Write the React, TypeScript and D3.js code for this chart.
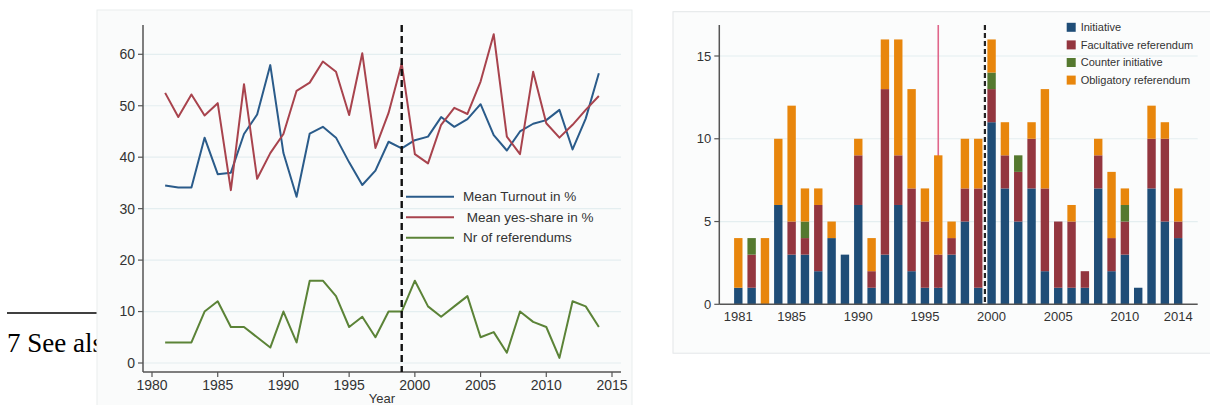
import React from 'react';
import * as d3 from 'd3';

// ---------- DATA ----------
const years = [1981, 1982, 1983, 1984, 1985, 1986, 1987, 1988, 1989, 1990,
  1991, 1992, 1993, 1994, 1995, 1996, 1997, 1998, 1999, 2000,
  2001, 2002, 2003, 2004, 2005, 2006, 2007, 2008, 2009, 2010,
  2011, 2012, 2013, 2014];

const turnout = [34.5, 34.1, 34.1, 43.8, 36.7, 37.0, 44.5, 48.3, 57.9, 40.8,
  32.3, 44.6, 45.9, 43.8, 39.0, 34.6, 37.4, 43.0, 41.7, 43.3,
  44.0, 47.8, 45.9, 47.4, 50.3, 44.3, 41.3, 45.0, 46.5, 47.2,
  49.2, 41.5, 47.5, 56.3];

const yesShare = [52.5, 47.8, 52.2, 48.1, 50.5, 33.6, 54.2, 35.8, 40.8, 44.5,
  52.9, 54.5, 58.6, 56.6, 48.2, 60.2, 41.8, 48.6, 58.2, 40.6,
  38.8, 46.3, 49.6, 48.4, 54.7, 63.9, 44.0, 40.6, 56.6, 46.6,
  43.8, 46.3, 49.2, 51.9];

const nrReferendums = [4, 4, 4, 10, 12, 7, 7, 5, 3, 10,
  4, 16, 16, 13, 7, 9, 5, 10, 10, 16,
  11, 9, 11, 13, 5, 6, 2, 10, 8, 7,
  1, 12, 11, 7];

const initiative = [1, 1, 0, 6, 3, 3, 2, 4, 3, 6, 1, 3, 6, 2, 1, 1, 3, 5, 1, 11, 7, 5, 7, 2, 1, 1, 1, 7, 2, 3, 1, 7, 5, 4];
const facultative = [0, 2, 0, 0, 2, 1, 4, 0, 0, 3, 1, 10, 3, 5, 4, 2, 1, 2, 6, 2, 2, 3, 3, 5, 4, 4, 1, 2, 2, 2, 0, 3, 5, 1];
const counterInit = [0, 1, 0, 0, 0, 1, 0, 0, 0, 0, 0, 0, 0, 0, 0, 0, 0, 0, 0, 1, 0, 1, 0, 0, 0, 0, 0, 0, 0, 1, 0, 0, 0, 0];
const obligatory = [3, 0, 4, 4, 7, 2, 1, 1, 0, 1, 2, 3, 7, 6, 2, 6, 1, 3, 3, 2, 2, 0, 1, 6, 0, 1, 0, 1, 4, 1, 0, 2, 1, 2];

const leftXTicks = [1980, 1985, 1990, 1995, 2000, 2005, 2010, 2015];
const leftYTicks = [0, 10, 20, 30, 40, 50, 60];
const rightXTicks = [1981, 1985, 1990, 1995, 2000, 2005, 2010, 2014];
const rightYTicks = [0, 5, 10, 15];

const lineSeries = [
  { name: 'Mean Turnout in %', label: 'Mean Turnout in %', values: turnout, color: '#2a5b8a' },
  { name: 'Mean yes-share in %', label: ' Mean yes-share in %', values: yesShare, color: '#a8434d' },
  { name: 'Nr of referendums', label: 'Nr of referendums', values: nrReferendums, color: '#5b8337' },
];

const barKeys = ['Initiative', 'Facultative referendum', 'Counter initiative', 'Obligatory referendum'];
const barColors = ['#1f4d77', '#93363f', '#55792f', '#e8860c'];

const FONT = '"Liberation Sans", Arial, Helvetica, sans-serif';

export default function App() {
  // ---------- LEFT CHART ----------
  const xL = d3.scaleLinear().domain([1980, 2015]).range([152, 612]);
  const yL = d3.scaleLinear().domain([0, 60]).range([363, 54.3]);
  const lFrame = { left: 143, right: 621, top: 25, bottom: 372 };

  const lineGen = (vals: number[]) =>
    d3.line<number>().x((_, i) => xL(years[i])).y((v) => yL(v))(vals) || '';

  // ---------- RIGHT CHART ----------
  const xR = d3.scaleLinear().domain([1981, 2014]).range([738.3, 1178.2]);
  const yR = d3.scaleLinear().domain([0, 15]).range([304.3, 56]);
  const rFrame = { left: 719.3, right: 1197.7, top: 25, bottom: 304.3 };
  const barW = 8.4;

  const table = years.map((yr, i) => ({
    year: yr,
    'Initiative': initiative[i],
    'Facultative referendum': facultative[i],
    'Counter initiative': counterInit[i],
    'Obligatory referendum': obligatory[i],
  }));
  const stacked = d3.stack<any>().keys(barKeys)(table);

  return (
    <svg width={1210} height={405} style={{ position: 'absolute', left: 0, top: 0, background: '#fff' }}
      fontFamily={FONT}>
      {/* footnote text behind left panel */}
      <line x1={7} x2={100} y1={313} y2={313} stroke="#000" strokeWidth={1.5} />
      <text x={7} y={352} fontFamily='"Liberation Serif", "Times New Roman", serif' fontSize={27} fill="#000">7 See also</text>

      {/* LEFT PANEL */}
      <rect x={97} y={10} width={535} height={400} fill="#fafbfb" stroke="#e9eded" strokeWidth={1} />
      {leftYTicks.map((t) => (
        <g key={'lg' + t}>
          <line x1={lFrame.left} x2={lFrame.right} y1={yL(t)} y2={yL(t)} stroke="#e4eef0" strokeWidth={1.2} />
          <line x1={lFrame.left - 5} x2={lFrame.left} y1={yL(t)} y2={yL(t)} stroke="#555" strokeWidth={1.2} />
          <text x={lFrame.left - 8} y={yL(t)} dy="0.35em" textAnchor="end" fontSize={14} fill="#333">{t}</text>
        </g>
      ))}
      {leftXTicks.map((t) => (
        <g key={'lx' + t}>
          <line x1={xL(t)} x2={xL(t)} y1={lFrame.bottom} y2={lFrame.bottom + 5} stroke="#555" strokeWidth={1.2} />
          <text x={xL(t)} y={390} textAnchor="middle" fontSize={14} fill="#333">{t}</text>
        </g>
      ))}
      <line x1={lFrame.left} x2={lFrame.left} y1={lFrame.top} y2={lFrame.bottom} stroke="#555" strokeWidth={1.5} />
      <line x1={lFrame.left} x2={lFrame.right} y1={lFrame.bottom} y2={lFrame.bottom} stroke="#555" strokeWidth={1.5} />
      <text x={(xL(1980) + xL(2015)) / 2} y={403} textAnchor="middle" fontSize={13} fill="#333">Year</text>

      {lineSeries.map((s) => (
        <path key={s.name} d={lineGen(s.values)} fill="none" stroke={s.color} strokeWidth={2} strokeLinejoin="round" />
      ))}
      <line x1={xL(1999)} x2={xL(1999)} y1={lFrame.top} y2={lFrame.bottom} stroke="#111" strokeWidth={2.4} strokeDasharray="7,4" />

      {/* left legend */}
      {lineSeries.map((s, i) => (
        <g key={'leg' + s.name} transform={`translate(406, ${196.7 + i * 20.5})`}>
          <line x1={0} x2={48} y1={0} y2={0} stroke={s.color} strokeWidth={2} />
          <text x={57} y={0} dy="0.35em" fontSize={13.5} fill="#333" style={{ whiteSpace: 'pre' }}>{s.label}</text>
        </g>
      ))}

      {/* RIGHT PANEL */}
      <rect x={673} y={11.7} width={545} height={341.5} fill="#fbfcfc" stroke="#e3e6e8" strokeWidth={1} />
      {rightYTicks.map((t) => (
        <g key={'rg' + t}>
          {t > 0 && <line x1={rFrame.left} x2={rFrame.right} y1={yR(t)} y2={yR(t)} stroke="#e4eef0" strokeWidth={1.2} />}
          <line x1={rFrame.left - 5} x2={rFrame.left} y1={yR(t)} y2={yR(t)} stroke="#555" strokeWidth={1.2} />
          <text x={rFrame.left - 8} y={yR(t)} dy="0.35em" textAnchor="end" fontSize={13} fill="#333">{t}</text>
        </g>
      ))}
      <line x1={xR(1996)} x2={xR(1996)} y1={rFrame.top} y2={rFrame.bottom} stroke="#e0668a" strokeWidth={1.6} />
      {stacked.map((layer, k) => (
        <g key={'layer' + k} fill={barColors[k]}>
          {layer.map((d, i) => (d[1] - d[0] > 0 ? (
            <rect key={i} x={xR(years[i]) - barW / 2} y={yR(d[1])} width={barW} height={yR(d[0]) - yR(d[1])} />
          ) : null))}
        </g>
      ))}
      <line x1={xR(1999.5)} x2={xR(1999.5)} y1={rFrame.top} y2={rFrame.bottom} stroke="#222" strokeWidth={2.2} strokeDasharray="5,3" />
      <line x1={rFrame.left} x2={rFrame.left} y1={rFrame.top} y2={rFrame.bottom} stroke="#555" strokeWidth={1.5} />
      <line x1={rFrame.left} x2={rFrame.right} y1={rFrame.bottom} y2={rFrame.bottom} stroke="#555" strokeWidth={1.5} />
      {rightXTicks.map((t) => (
        <text key={'rx' + t} x={xR(t)} y={321} textAnchor="middle" fontSize={13} fill="#333">{t}</text>
      ))}
      {barKeys.map((k, i) => (
        <g key={'rleg' + k} transform={`translate(1066.7, ${27.3 + i * 17.6})`}>
          <rect x={0} y={-4.5} width={9} height={9} fill={barColors[i]} />
          <text x={14} y={0} dy="0.35em" fontSize={11} fill="#333">{k}</text>
        </g>
      ))}
    </svg>
  );
}
